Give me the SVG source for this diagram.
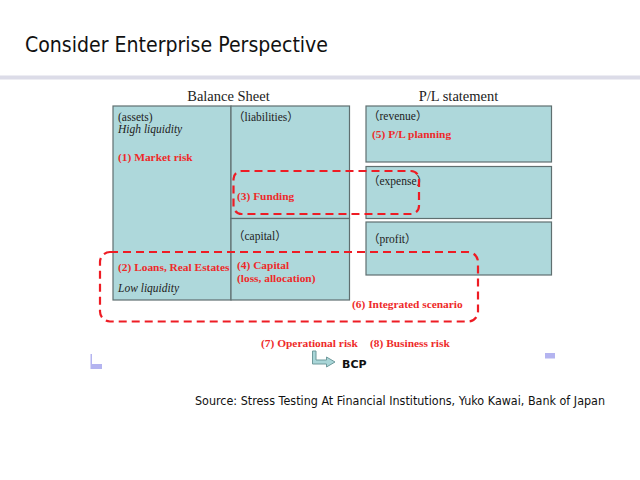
<svg xmlns="http://www.w3.org/2000/svg" width="640" height="480" viewBox="0 0 640 480">
<style>
.box{fill:#aed8db;stroke:#5f6f70;stroke-width:1.2}
.t{font-family:"Liberation Serif","Noto Sans CJK JP",serif;font-size:11.5px;fill:#222}
.i{font-style:italic}
.r{font-family:"Liberation Serif",serif;font-size:11.4px;font-weight:bold;fill:#ee2a2a}
.h{font-family:"Liberation Serif",serif;font-size:14.5px;fill:#222}
.dash{fill:none;stroke:#ee1c24;stroke-width:2.2;stroke-dasharray:8 5}
.s{font-family:"DejaVu Sans",sans-serif;fill:#111}
.mark{fill:#b4b4f0}
</style>
<rect width="640" height="480" fill="#fff"/>
<text class="s" x="25" y="52" font-size="21" textLength="303" lengthAdjust="spacingAndGlyphs">Consider Enterprise Perspective</text>
<rect x="0" y="75.5" width="640" height="4" fill="#dcdce8"/>
<text class="h" x="228.5" y="101" text-anchor="middle">Balance Sheet</text>
<text class="h" x="458.5" y="101" text-anchor="middle">P/L statement</text>
<g id="assets">
<rect class="box" x="113" y="106" width="118" height="194"/>
<text class="t" x="118" y="121">(assets)</text>
<text class="t i" x="118" y="133">High liquidity</text>
<text class="r" x="118" y="161">(1) Market risk</text>
<text class="r" x="118" y="271">(2) Loans, Real Estates</text>
<text class="t i" x="118" y="292">Low liquidity</text>
</g>
<g id="liabilities">
<rect class="box" x="231" y="106" width="118.5" height="112.5"/>
<text class="t" x="233" y="121">（liabilities）</text>
</g>
<g id="capital">
<rect class="box" x="231" y="218.5" width="118.5" height="81.5"/>
<text class="t" x="233" y="240">（capital）</text>
<text class="r" x="237" y="269">(4) Capital</text>
<text class="r" x="237" y="282">(loss, allocation)</text>
</g>
<g id="revenue">
<rect class="box" x="366" y="106" width="185.5" height="56"/>
<text class="t" x="368" y="120">（revenue）</text>
<text class="r" x="372" y="138">(5) P/L planning</text>
</g>
<g id="expense">
<rect class="box" x="366" y="166.5" width="185.5" height="52"/>
<text class="t" x="368" y="185">（expense）</text>
</g>
<g id="profit">
<rect class="box" x="366" y="222" width="185.5" height="53"/>
<text class="t" x="368" y="243">（profit）</text>
</g>
<g id="funding">
<rect class="dash" x="233.5" y="171" width="185.5" height="43" rx="8"/>
<text class="r" x="237" y="200">(3) Funding</text>
</g>
<g id="integrated">
<rect class="dash" x="100" y="252" width="378" height="69.5" rx="10"/>
<text class="r" x="352" y="308">(6) Integrated scenario</text>
</g>
<text class="r" x="261" y="347">(7) Operational risk</text>
<text class="r" x="370" y="347">(8) Business risk</text>
<g id="connectors">
<polygon points="312.5,351 316,351 316,360 326.5,360 326.5,357 335,362 326.5,367 326.5,364 312.5,364" fill="#a9d6d8" stroke="#6f9a9c" stroke-width="1"/>
</g>
<g id="bcp">
<text class="s" x="342" y="368" font-size="11" font-weight="bold">BCP</text>
</g>
<rect class="mark" x="90.5" y="354" width="1.5" height="15"/>
<rect class="mark" x="92" y="364" width="10" height="5"/>
<rect class="mark" x="545" y="353" width="10" height="5.5"/>
<text class="s" x="195" y="405" font-size="12" textLength="410" lengthAdjust="spacingAndGlyphs">Source: Stress Testing At Financial Institutions, Yuko Kawai, Bank of Japan</text>
</svg>
